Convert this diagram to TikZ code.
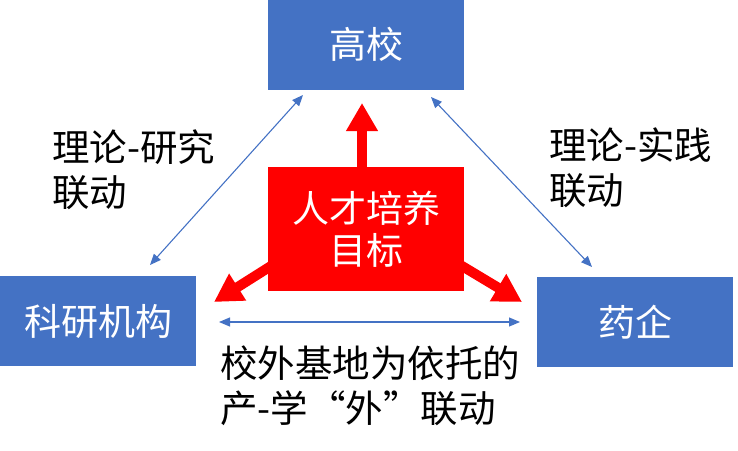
\documentclass[tikz,border=0pt]{standalone}
\usepackage{fontspec}
\setmainfont{Noto Sans CJK SC}
\usetikzlibrary{arrows.meta,calc}
\definecolor{boxblue}{HTML}{4472C4}
\definecolor{goalred}{HTML}{FF0000}
\tikzset{
  party/.style={rectangle, fill=boxblue, text=white, minimum width=196pt,
    minimum height=90pt, inner sep=0pt, font=\fontsize{37}{42}\selectfont},
  goal/.style={rectangle, fill=goalred, text=white, minimum width=196pt,
    minimum height=124pt, inner sep=0pt, align=center,
    font=\fontsize{37}{42}\selectfont},
  link/.style={draw=boxblue, line width=1.1pt,
    {Triangle[length=11pt,width=9pt]}-{Triangle[length=11pt,width=9pt]}},
  push/.style={draw=goalred, line width=10pt,
    -{Triangle[length=28pt,width=30pt]}},
  note/.style={align=left, inner sep=0pt, font=\fontsize{37.5}{45}\selectfont},
}
\begin{document}
\begin{tikzpicture}[x=1pt,y=-1pt]
    \useasboundingbox (0,0) rectangle (738,450);
    % the three partners and the goal
    \node[party] (gx) at (366,44.5) {高校};
    \node[party] (ky) at (98,321) {科研机构};
    \node[party] (yq) at (635,322) {药企};
    \node[goal] (mb) at (366,229) {人才培养\\目标};
    % ends of the thin links
    \coordinate (gxl) at (303,95);
    \coordinate (gxr) at (431,97);
    \coordinate (kyu) at (150,265);
    \coordinate (yqu) at (592,267);
    \coordinate (kyr) at (219,322);
    \coordinate (yql) at (520,322);
    \draw[link] (kyu) -- (gxl);
    \draw[link] (gxr) -- (yqu);
    \draw[link] (kyr) -- (yql);
    % thick red arrows out of the goal
    \coordinate (tipu) at (362,103);
    \coordinate (tipl) at (214,302);
    \coordinate (tipr) at (522,302);
    \draw[push] (tipu |- mb.north) -- (tipu);
    \draw[push] ($(mb)+(-76,25)$) -- (tipl);
    \draw[push] ($(mb)+(76,25)$) -- (tipr);
    % labels
    \node[note, anchor=west] (lyj) at (52,170) {理论-研究\\联动};
    \node[note, anchor=west] (lsj) at (549,168) {理论-实践\\联动};
    \node[note, anchor=west] (cxw) at (220,386) {校外基地为依托的\\产-学“外”联动};
\end{tikzpicture}
\end{document}
